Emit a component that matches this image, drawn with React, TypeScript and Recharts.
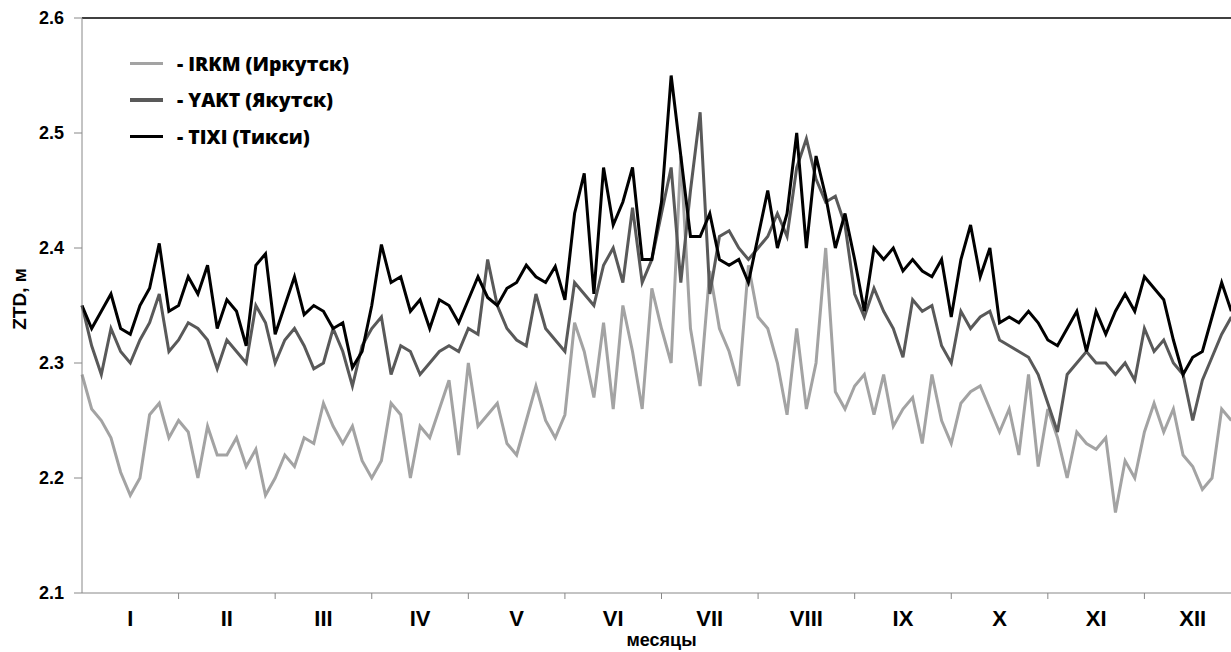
import { LineChart, Line, XAxis, YAxis, Legend, ReferenceLine } from 'recharts'

// ZTD values sampled every 0.1 month (index / 10 = month position)
const irkm = [
  2.29, 2.26, 2.25, 2.235, 2.205, 2.185, 2.2, 2.255, 2.265, 2.235,
  2.25, 2.24, 2.2, 2.245, 2.22, 2.22, 2.235, 2.21, 2.225, 2.185,
  2.2, 2.22, 2.21, 2.235, 2.23, 2.265, 2.245, 2.23, 2.245, 2.215,
  2.2, 2.215, 2.265, 2.255, 2.2, 2.245, 2.235, 2.26, 2.285, 2.22,
  2.3, 2.245, 2.255, 2.265, 2.23, 2.22, 2.25, 2.28, 2.25, 2.235,
  2.255, 2.335, 2.31, 2.27, 2.335, 2.26, 2.35, 2.31, 2.26, 2.365,
  2.33, 2.3, 2.48, 2.33, 2.28, 2.38, 2.33, 2.31, 2.28, 2.385,
  2.34, 2.33, 2.3, 2.255, 2.33, 2.26, 2.3, 2.4, 2.275, 2.26,
  2.28, 2.29, 2.255, 2.29, 2.245, 2.26, 2.27, 2.23, 2.29, 2.25,
  2.23, 2.265, 2.275, 2.28, 2.26, 2.24, 2.26, 2.22, 2.29, 2.21,
  2.26, 2.235, 2.2, 2.24, 2.23, 2.225, 2.235, 2.17, 2.215, 2.2,
  2.24, 2.265, 2.24, 2.26, 2.22, 2.21, 2.19, 2.2, 2.26, 2.25,
]

const yakt = [
  2.35, 2.315, 2.29, 2.33, 2.31, 2.3, 2.32, 2.335, 2.36, 2.31,
  2.32, 2.335, 2.33, 2.32, 2.295, 2.32, 2.31, 2.3, 2.35, 2.335,
  2.3, 2.32, 2.33, 2.315, 2.295, 2.3, 2.33, 2.31, 2.28, 2.315,
  2.33, 2.34, 2.29, 2.315, 2.31, 2.29, 2.3, 2.31, 2.315, 2.31,
  2.33, 2.325, 2.39, 2.35, 2.33, 2.32, 2.315, 2.36, 2.33, 2.32,
  2.31, 2.37, 2.36, 2.35, 2.385, 2.4, 2.37, 2.435, 2.37, 2.39,
  2.43, 2.47, 2.37, 2.45, 2.518, 2.36, 2.41, 2.415, 2.4, 2.39,
  2.4, 2.41, 2.43, 2.41, 2.47, 2.495, 2.46, 2.44, 2.445, 2.42,
  2.36, 2.34, 2.365, 2.345, 2.33, 2.305, 2.355, 2.345, 2.35, 2.315,
  2.3, 2.345, 2.33, 2.34, 2.345, 2.32, 2.315, 2.31, 2.305, 2.29,
  2.265, 2.24, 2.29, 2.3, 2.31, 2.3, 2.3, 2.29, 2.3, 2.285,
  2.33, 2.31, 2.32, 2.3, 2.29, 2.25, 2.285, 2.305, 2.325, 2.34,
]

const tixi = [
  2.35, 2.33, 2.345, 2.36, 2.33, 2.325, 2.35, 2.365, 2.404, 2.345,
  2.35, 2.375, 2.36, 2.385, 2.33, 2.355, 2.345, 2.315, 2.385, 2.395,
  2.325, 2.35, 2.375, 2.342, 2.35, 2.345, 2.33, 2.335, 2.296, 2.31,
  2.35, 2.403, 2.37, 2.375, 2.345, 2.355, 2.33, 2.355, 2.35, 2.335,
  2.355, 2.375, 2.357, 2.35, 2.365, 2.37, 2.385, 2.375, 2.37, 2.384,
  2.355, 2.43, 2.465, 2.36, 2.47, 2.42, 2.44, 2.47, 2.39, 2.39,
  2.44, 2.55, 2.48, 2.41, 2.41, 2.43, 2.39, 2.385, 2.39, 2.37,
  2.41, 2.45, 2.4, 2.43, 2.5, 2.4, 2.48, 2.445, 2.4, 2.43,
  2.39, 2.345, 2.4, 2.39, 2.4, 2.38, 2.39, 2.38, 2.375, 2.39,
  2.34, 2.39, 2.42, 2.375, 2.4, 2.335, 2.34, 2.335, 2.345, 2.335,
  2.32, 2.315, 2.33, 2.345, 2.31, 2.345, 2.325, 2.345, 2.36, 2.345,
  2.375, 2.365, 2.355, 2.32, 2.29, 2.305, 2.31, 2.34, 2.37, 2.345,
]

const seriesNames = ['IRKM (Иркутск)', 'YAKT (Якутск)', 'TIXI (Тикси)']
const months = ['I', 'II', 'III', 'IV', 'V', 'VI', 'VII', 'VIII', 'IX', 'X', 'XI', 'XII']
const yTicks = [2.1, 2.2, 2.3, 2.4, 2.5, 2.6]

const data = tixi.map((_, i) => ({ m: i / 10, irkm: irkm[i], yakt: yakt[i], tixi: tixi[i] }))
const xTicks = Array.from({ length: 25 }, (_, i) => i / 2)

const axisFont = { fontFamily: '"Liberation Sans", Arial, sans-serif', fontWeight: 700 }

function MonthTick({ x, y, payload }: any) {
  const v = payload.value
  if (Number.isInteger(v)) {
    if (v <= 0 || v >= 12) return null
    return <line x1={x} x2={x} y1={y - 6} y2={y} stroke="#888" strokeWidth={1} />
  }
  return (
    <text x={x} y={y + 27} textAnchor="middle" fontSize={22} fill="#000" style={axisFont}>
      {months[Math.floor(v)]}
    </text>
  )
}

function LegendBox({ payload }: any) {
  const items = [...(payload || [])].sort((a: any, b: any) => seriesNames.indexOf(a.value) - seriesNames.indexOf(b.value))
  return (
    <div style={{ fontFamily: '"Open Sans", sans-serif', fontWeight: 800, fontSize: 19.5, color: '#000' }}>
      {items.map((p: any) => (
        <div key={p.value} style={{ display: 'flex', alignItems: 'center', height: 36.5 }}>
          <span style={{ display: 'inline-block', width: 33, height: 3.5, background: p.color, marginRight: 14 }} />
          <span>- {p.value}</span>
        </div>
      ))}
    </div>
  )
}

export default function App() {
  return (
    <div style={{ position: 'absolute', left: 0, top: 0, width: 1231, height: 652, overflow: 'hidden', background: '#fff' }}>
      <LineChart width={1245} height={652} data={data} margin={{ top: 18, right: 4, bottom: 0, left: 0 }}>
        <XAxis
          dataKey="m"
          type="number"
          domain={[0, 12]}
          ticks={xTicks}
          interval={0}
          height={59}
          tickSize={6}
          tickMargin={0}
          tickLine={false}
          axisLine={{ stroke: '#888' }}
          tick={<MonthTick />}
          label={{ value: 'месяцы', position: 'insideBottom', offset: 6, fontSize: 18, fill: '#000', style: axisFont }}
        />
        <YAxis
          type="number"
          domain={[2.1, 2.6]}
          ticks={yTicks}
          width={82}
          tickSize={8}
          tickMargin={10}
          tickLine={{ stroke: '#888' }}
          axisLine={{ stroke: '#888' }}
          tickFormatter={(v: number) => v.toFixed(1)}
          tick={{ fill: '#000', fontSize: 18, ...axisFont }}
          label={{
            content: () => (
              <text x={19} y={299} transform="rotate(-90 19 299)" textAnchor="middle" dominantBaseline="central" fontSize={19} fill="#000" style={axisFont}>
                ZTD, м
              </text>
            ),
          }}
        />
        <ReferenceLine y={2.6} stroke="#000" strokeWidth={1.5} />
        <Legend
          layout="vertical"
          align="center"
          verticalAlign="middle"
          content={<LegendBox />}
          wrapperStyle={{ position: 'absolute', left: 130, top: 45, width: 320 }}
        />
        <Line type="linear" dataKey="irkm" name={seriesNames[0]} stroke="#a3a3a3" strokeWidth={3} dot={false} isAnimationActive={false} />
        <Line type="linear" dataKey="yakt" name={seriesNames[1]} stroke="#595959" strokeWidth={3} dot={false} isAnimationActive={false} />
        <Line type="linear" dataKey="tixi" name={seriesNames[2]} stroke="#000" strokeWidth={3} dot={false} isAnimationActive={false} />
      </LineChart>
    </div>
  )
}
